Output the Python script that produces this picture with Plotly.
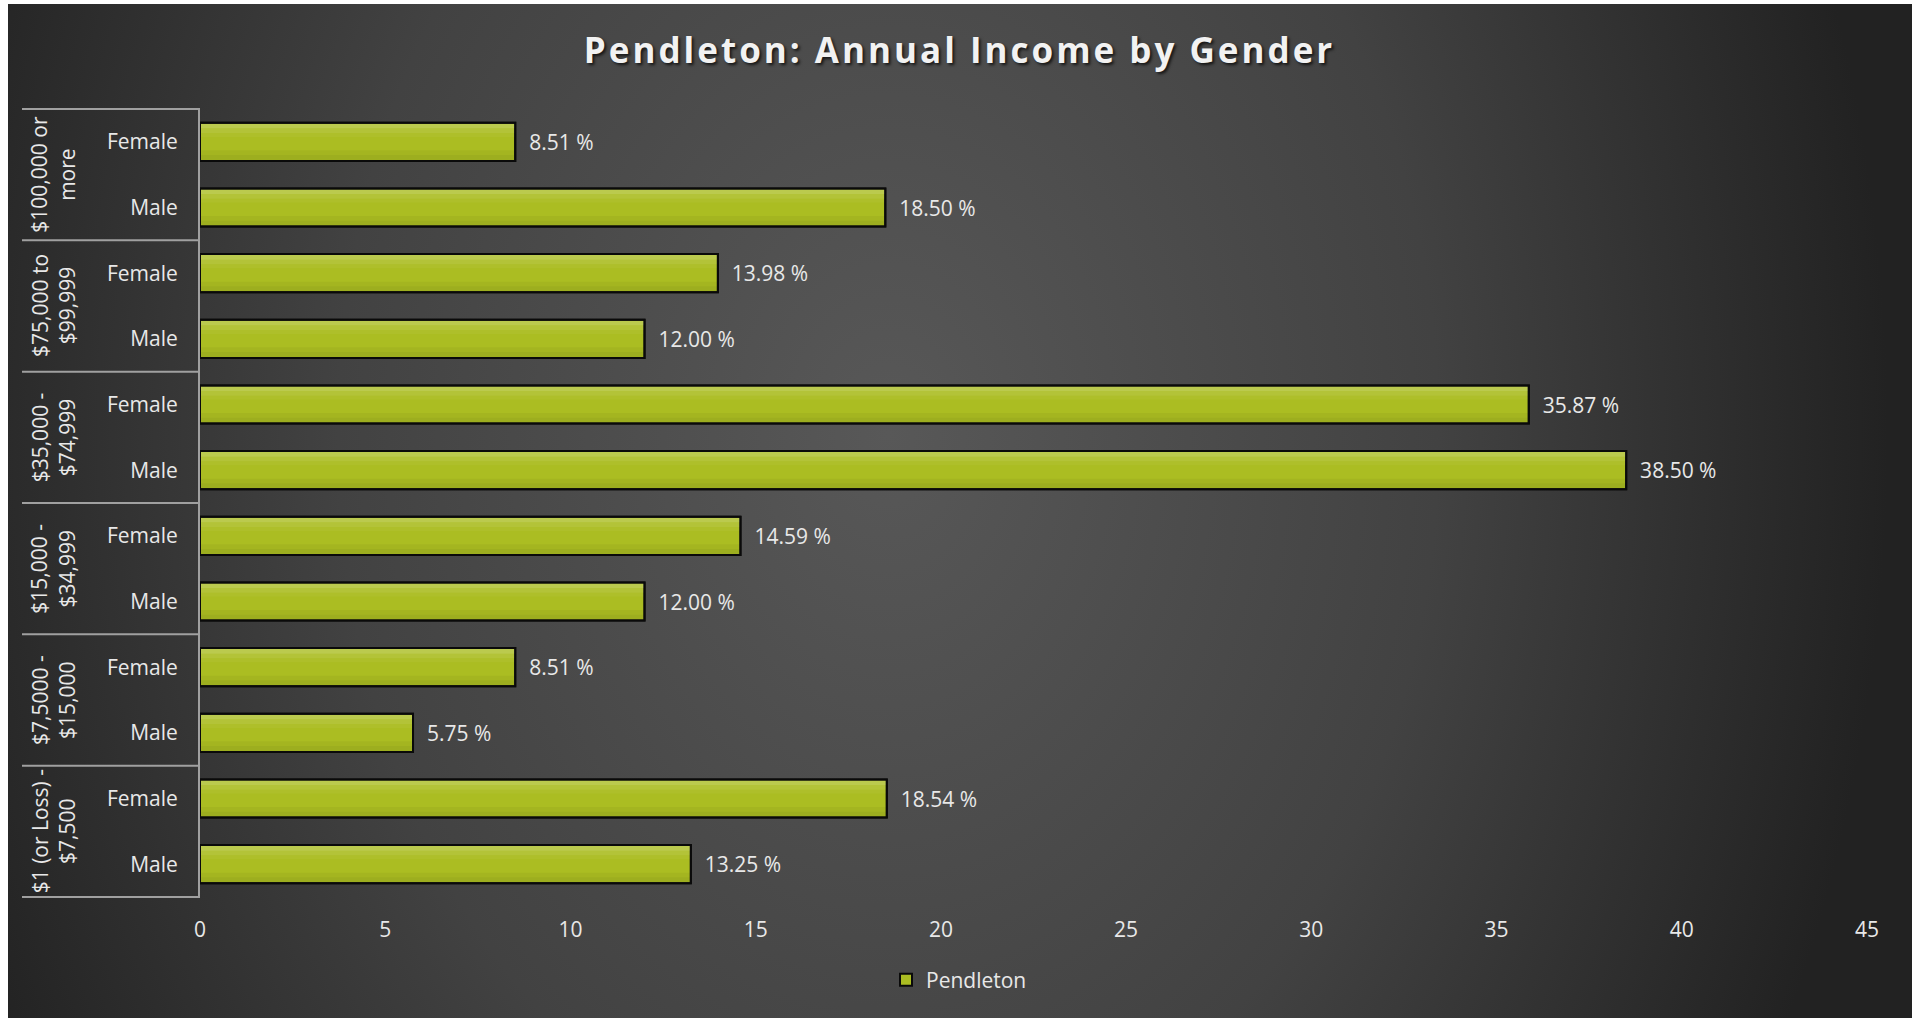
import base64
import plotly.graph_objects as go

# ---------------- data ----------------
income_groups = [
    "$100,000 or<br>more",
    "$75,000 to<br>$99,999",
    "$35,000 -<br>$74,999",
    "$15,000 -<br>$34,999",
    "$7,5000 -<br>$15,000",
    "$1 (or Loss) -<br>$7,500",
]
genders = ["Female", "Male"]
female_values = [8.51, 13.98, 35.87, 14.59, 8.51, 18.54]
male_values = [18.50, 12.00, 38.50, 12.00, 5.75, 13.25]
x_ticks = [0, 5, 10, 15, 20, 25, 30, 35, 40, 45]
series_name = "Pendleton"
title_text = "Pendleton: Annual Income by Gender"

# ---------------- build category table ----------------
cat_ids, tick_text, values = [], [], []
for g, f, m in zip(income_groups, female_values, male_values):
    for gender, v in zip(genders, (f, m)):
        cat_ids.append(g.replace("<br>", " ") + " | " + gender)
        tick_text.append(gender)
        values.append(v)

# ---------------- layout geometry (pixels) ----------------
W, H = 1919, 1018
PL, PR, PT, PB = 200, 1867, 109, 897      # plot area
pw, ph = PR - PL, PB - PT


def xp(px):
    return (px - PL) / pw


def yp(py):
    return (PB - py) / ph


BG_L, BG_R, BG_T, BG_B = 8, 1912, 4, 1018
bw, bh = BG_R - BG_L, BG_B - BG_T
svg = (
    f'<svg xmlns="http://www.w3.org/2000/svg" width="{bw}" height="{bh}" viewBox="0 0 {bw} {bh}">'
    '<defs><radialGradient id="g" gradientUnits="userSpaceOnUse" cx="880" cy="430" r="1000" '
    'gradientTransform="translate(880 430) scale(1 1.35) translate(-880 -430)">'
    '<stop offset="0" stop-color="#585858"/><stop offset="0.55" stop-color="#424242"/>'
    '<stop offset="1" stop-color="#222222"/></radialGradient></defs>'
    f'<rect width="{bw}" height="{bh}" fill="url(#g)"/></svg>'
)
bg_uri = "data:image/svg+xml;base64," + base64.b64encode(svg.encode()).decode()

FONT = "Open Sans"
TXT = "#e8e8e8"
BAR = "#abbd22"
AXC = "#a0a0a0"
BW = 0.58  # bar thickness in category units

fig = go.Figure()
# main bar (fill + border, carries legend and labels)
fig.add_trace(
    go.Bar(
        y=cat_ids,
        x=values,
        orientation="h",
        name=series_name,
        width=BW,
        marker=dict(color=BAR, line=dict(color="#0a0a0a", width=2)),
        text=["\u00a0\u00a0%.2f %%" % v for v in values],
        textposition="outside",
        textfont=dict(family=FONT, size=21, color=TXT),
        constraintext="none",
        cliponaxis=False,
        hoverinfo="x+y",
    )
)
# subtle vertical gradient on the bars (light top, darker bottom)
bands = [
    (-0.275, 0.07, "rgba(255,255,255,0.20)"),
    (-0.205, 0.07, "rgba(255,255,255,0.10)"),
    (-0.135, 0.06, "rgba(255,255,255,0.04)"),
    (0.13, 0.07, "rgba(0,0,0,0.04)"),
    (0.20, 0.075, "rgba(0,0,0,0.08)"),
]
for off, wd, col in bands:
    fig.add_trace(
        go.Bar(
            y=cat_ids, x=values, orientation="h", width=wd, offset=off,
            marker=dict(color=col, line=dict(width=0)),
            showlegend=False, hoverinfo="skip",
        )
    )
# border on top
fig.add_trace(
    go.Bar(
        y=cat_ids, x=values, orientation="h", width=BW,
        marker=dict(color="rgba(0,0,0,0)", line=dict(color="#0a0a0a", width=2)),
        showlegend=False, hoverinfo="skip",
    )
)

shapes = []
n_groups = len(income_groups)
for k in range(n_groups + 1):
    y = k / n_groups
    shapes.append(
        dict(type="line", xref="paper", yref="paper", x0=xp(22), x1=xp(200), y0=y, y1=y,
             line=dict(color=AXC, width=2))
    )

annotations = []
for k, g in enumerate(income_groups):
    yc = 1 - (k + 0.5) / n_groups
    annotations.append(
        dict(text=g, xref="paper", yref="paper", x=xp(53), y=yc, xanchor="center",
             yanchor="middle", textangle=-90, showarrow=False,
             font=dict(family=FONT, size=21, color=TXT))
    )

fig.update_layout(
    width=W,
    height=H,
    margin=dict(l=PL, r=W - PR, t=PT, b=H - PB, pad=0),
    paper_bgcolor="white",
    plot_bgcolor="rgba(0,0,0,0)",
    barmode="overlay",
    title=dict(
        text=f"<b>{title_text}</b>",
        x=0.5,
        xref="container",
        xanchor="center",
        y=1 - 51 / H,
        yanchor="middle",
        font=dict(family=FONT, size=35, color="#f2f2f2", shadow="2px 2px 3px rgba(0,0,0,0.7)"),
    ),
    xaxis=dict(
        range=[0, 45],
        tickvals=x_ticks,
        showgrid=False,
        zeroline=False,
        showline=False,
        ticks="",
        ticklabelstandoff=18,
        tickfont=dict(family=FONT, size=21, color=TXT),
        fixedrange=True,
    ),
    yaxis=dict(
        type="category",
        categoryorder="array",
        categoryarray=cat_ids,
        autorange="reversed",
        tickvals=cat_ids,
        ticktext=tick_text,
        showgrid=False,
        zeroline=False,
        showline=True,
        linecolor=AXC,
        linewidth=2,
        ticks="",
        ticklabelstandoff=16,
        tickfont=dict(family=FONT, size=21, color=TXT),
        fixedrange=True,
    ),
    showlegend=True,
    legend=dict(
        orientation="h",
        x=xp(959),
        y=yp(980),
        xanchor="center",
        yanchor="middle",
        bgcolor="rgba(0,0,0,0)",
        font=dict(family=FONT, size=21, color=TXT),
        itemwidth=30,
    ),
    shapes=shapes,
    annotations=annotations,
    images=[
        dict(source=bg_uri, xref="paper", yref="paper", x=xp(BG_L), y=yp(BG_T),
             sizex=bw / pw, sizey=bh / ph, xanchor="left", yanchor="top",
             sizing="stretch", layer="below")
    ],
)

post = (
    "document.body.style.margin='0';document.body.style.overflow='hidden';"
    "var t=document.querySelector('.gtitle');"
    "if(t){t.style.letterSpacing='3px';}"
)
fig.write_html("out.html", post_script=post, config={"displayModeBar": False})
